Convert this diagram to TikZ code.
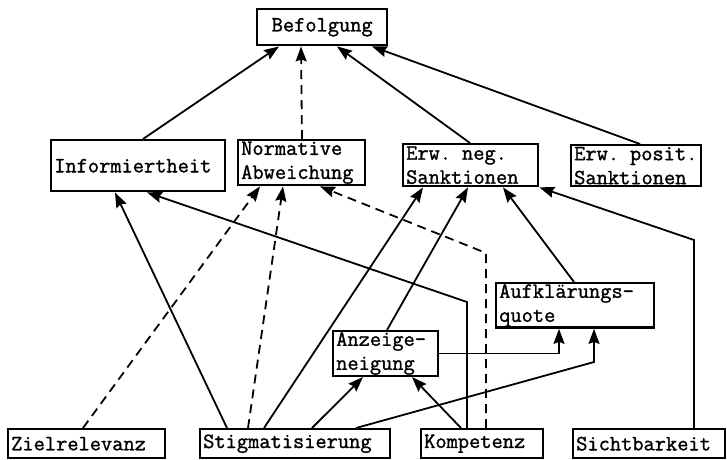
\documentclass[tikz,border=0pt]{standalone}
\usepackage{fontspec}
\newfontfamily\typew[AutoFakeBold=1.3]{Latin Modern Mono}
\usetikzlibrary{arrows.meta}
\tikzset{
semithick, % all lines semithick
>={Stealth[length=15pt,width=11pt,inset=2pt]}, % filled arrow tips
var/.style={draw,line width=2.4pt,anchor=north west,align=left,inner xsep=3pt,inner ysep=1pt,
  font=\typew\bfseries\fontsize{21.8}{24}\selectfont},
link/.style={line width=1.8pt,->},
weak/.style={link,dash pattern=on 9pt off 6pt}
}
\begin{document}
\begin{tikzpicture}[x=1pt,y=-1pt]
\useasboundingbox (0,0) rectangle (727,459);
% top
\node[var,align=center,text width=124pt,minimum height=36pt] (bef) at (256,8) {Befolgung};
% middle row
\node[var,text width=168pt,minimum height=51pt] (inf) at (50,139) {Informiertheit};
\node[var,text width=121pt,minimum height=45pt] (norm) at (237,139) {Normative\\Abweichung};
\node[var,text width=129pt,minimum height=42pt] (neg) at (402,143) {Erw. neg.\\Sanktionen};
\node[var,text width=124pt,minimum height=41pt] (pos) at (570,144) {Erw. posit.\\Sanktionen};
\node[var,text width=152pt,minimum height=42pt] (aufk) at (495,282) {Aufklärungs-\\quote};
\node[var,text width=99pt,minimum height=42pt] (anz) at (332,330) {Anzeige-\\neigung};
% bottom row
\node[var,text width=151pt,minimum height=29pt] (zr) at (7,428) {Zielrelevanz};
\node[var,text width=184pt,minimum height=29pt] (stig) at (199,428) {Stigmatisierung};
\node[var,text width=116pt,minimum height=29pt] (komp) at (420,428) {Kompetenz};
\node[var,text width=146pt,minimum height=29pt] (sicht) at (572,428) {Sichtbarkeit};
% bends
\coordinate (k1) at (467,302);
\coordinate (k2) at (486,253);
\coordinate (s1) at (694,240);
\coordinate (g1) at (594,362);
% into Befolgung
\draw[link] ([xshift=93pt]inf.north west) -- ([xshift=23pt]bef.south west);
\draw[weak] ([xshift=65pt]norm.north west) -- ([xshift=45pt]bef.south west);
\draw[link] ([xshift=68pt]neg.north west) -- ([xshift=81pt]bef.south west);
\draw[link] ([xshift=70pt]pos.north west) -- ([xshift=116pt]bef.south west);
% into Informiertheit
\draw[link] ([xshift=28pt]stig.north west) -- ([xshift=65pt]inf.south west);
\draw[link] (komp.north west -| k1) -- (k1) -- ([xshift=97pt]inf.south west);
% into Normative Abweichung
\draw[weak] ([xshift=76pt]zr.north west) -- ([xshift=23pt]norm.south west);
\draw[weak] ([xshift=49pt]stig.north west) -- ([xshift=46pt]norm.south west);
\draw[weak] (komp.north west -| k2) -- (k2) -- ([xshift=83pt]norm.south west);
% into Erw. neg. Sanktionen
\draw[link] ([xshift=65pt]stig.north west) -- ([xshift=21pt]neg.south west);
\draw[link] ([xshift=55pt]anz.north west) -- ([xshift=66pt]neg.south west);
\draw[link] ([xshift=79pt]aufk.north west) -- ([xshift=101pt]neg.south west);
\draw[link] (sicht.north west -| s1) -- (s1) -- (neg.south east);
% into Anzeigeneigung
\draw[link] ([xshift=113pt]stig.north west) -- ([xshift=31pt]anz.south west);
\draw[link] ([xshift=41pt]komp.north west) -- ([xshift=80pt]anz.south west);
% into Aufklaerungsquote
\draw[link] (anz.east) -| ([xshift=64pt]aufk.south west);
\draw[link] ([xshift=157pt]stig.north west) -- (g1) -- (aufk.south west -| g1);
\end{tikzpicture}
\end{document}
